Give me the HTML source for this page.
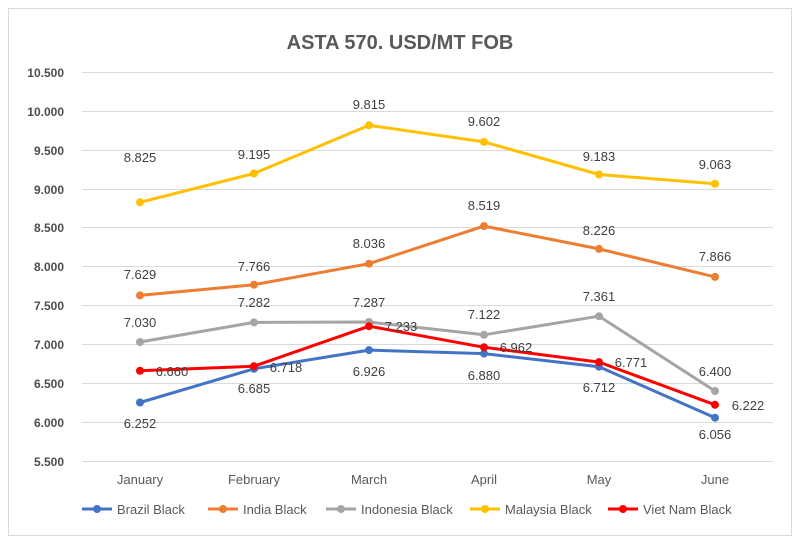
<!DOCTYPE html>
<html><head><meta charset="utf-8"><style>
body{margin:0;background:#fff;}
svg{display:block;font-family:"Liberation Sans",Arial,sans-serif;}
</style></head><body>
<svg width="800" height="544" viewBox="0 0 800 544" xmlns="http://www.w3.org/2000/svg">
<rect x="0" y="0" width="800" height="544" fill="#fff"/>
<rect x="8.5" y="8.5" width="783" height="527" fill="#fff" stroke="#d9d9d9"/>
<text x="400" y="49" text-anchor="middle" font-size="20" font-weight="bold" fill="#595959">ASTA 570. USD/MT FOB</text>
<g stroke="#d9d9d9" stroke-width="1">
<line x1="82" x2="773" y1="72.5" y2="72.5"/><line x1="82" x2="773" y1="111.5" y2="111.5"/>
<line x1="82" x2="773" y1="150.5" y2="150.5"/><line x1="82" x2="773" y1="189.5" y2="189.5"/>
<line x1="82" x2="773" y1="227.5" y2="227.5"/><line x1="82" x2="773" y1="266.5" y2="266.5"/>
<line x1="82" x2="773" y1="305.5" y2="305.5"/><line x1="82" x2="773" y1="344.5" y2="344.5"/>
<line x1="82" x2="773" y1="383.5" y2="383.5"/><line x1="82" x2="773" y1="422.5" y2="422.5"/>
<line x1="82" x2="773" y1="461.5" y2="461.5"/>
</g>
<g font-size="12" font-weight="bold" fill="#4d4d4d" text-anchor="end">
<text x="64" y="77">10.500</text><text x="64" y="116">10.000</text><text x="64" y="155">9.500</text>
<text x="64" y="194">9.000</text><text x="64" y="232">8.500</text><text x="64" y="271">8.000</text>
<text x="64" y="310">7.500</text><text x="64" y="349">7.000</text><text x="64" y="388">6.500</text>
<text x="64" y="427">6.000</text><text x="64" y="466">5.500</text>
</g>
<g font-size="13" fill="#595959" text-anchor="middle">
<text x="140" y="484">January</text><text x="254" y="484">February</text><text x="369" y="484">March</text>
<text x="484" y="484">April</text><text x="599" y="484">May</text><text x="715" y="484">June</text>
</g>
<g fill="none" stroke-width="3" stroke-linejoin="round">
<polyline stroke="#ffc000" points="140,202.3 254,173.5 369,125.3 484,141.9 599,174.5 715,183.8"/>
<polyline stroke="#ed7d31" points="140,295.4 254,284.7 369,263.7 484,226.1 599,248.9 715,276.9"/>
<polyline stroke="#a5a5a5" points="140,342 254,322.4 369,322 484,334.8 599,316.2 715,391"/>
<polyline stroke="#4472c4" points="140,402.5 254,368.8 369,350.1 484,353.6 599,366.7 715,417.7"/>
<polyline stroke="#ff0000" points="140,370.8 254,366.2 369,326.2 484,347.3 599,362.1 715,404.8"/>
</g>
<g fill="#ffc000"><circle cx="140" cy="202.3" r="4"/><circle cx="254" cy="173.5" r="4"/><circle cx="369" cy="125.3" r="4"/><circle cx="484" cy="141.9" r="4"/><circle cx="599" cy="174.5" r="4"/><circle cx="715" cy="183.8" r="4"/></g>
<g fill="#ed7d31"><circle cx="140" cy="295.4" r="4"/><circle cx="254" cy="284.7" r="4"/><circle cx="369" cy="263.7" r="4"/><circle cx="484" cy="226.1" r="4"/><circle cx="599" cy="248.9" r="4"/><circle cx="715" cy="276.9" r="4"/></g>
<g fill="#a5a5a5"><circle cx="140" cy="342" r="4"/><circle cx="254" cy="322.4" r="4"/><circle cx="369" cy="322" r="4"/><circle cx="484" cy="334.8" r="4"/><circle cx="599" cy="316.2" r="4"/><circle cx="715" cy="391" r="4"/></g>
<g fill="#4472c4"><circle cx="140" cy="402.5" r="4"/><circle cx="254" cy="368.8" r="4"/><circle cx="369" cy="350.1" r="4"/><circle cx="484" cy="353.6" r="4"/><circle cx="599" cy="366.7" r="4"/><circle cx="715" cy="417.7" r="4"/></g>
<g fill="#ff0000"><circle cx="140" cy="370.8" r="4"/><circle cx="254" cy="366.2" r="4"/><circle cx="369" cy="326.2" r="4"/><circle cx="484" cy="347.3" r="4"/><circle cx="599" cy="362.1" r="4"/><circle cx="715" cy="404.8" r="4"/></g>
<g font-size="13" fill="#404040" text-anchor="middle">
<text x="140" y="162">8.825</text><text x="254" y="159">9.195</text><text x="369" y="109">9.815</text><text x="484" y="126">9.602</text><text x="599" y="161">9.183</text><text x="715" y="169">9.063</text>
<text x="140" y="279">7.629</text><text x="254" y="271">7.766</text><text x="369" y="248">8.036</text><text x="484" y="210">8.519</text><text x="599" y="235">8.226</text><text x="715" y="261">7.866</text>
<text x="140" y="327">7.030</text><text x="254" y="307">7.282</text><text x="369" y="307">7.287</text><text x="484" y="319">7.122</text><text x="599" y="301">7.361</text><text x="715" y="376">6.400</text>
<text x="140" y="428">6.252</text><text x="254" y="393">6.685</text><text x="369" y="376">6.926</text><text x="484" y="380">6.880</text><text x="599" y="392">6.712</text><text x="715" y="439">6.056</text>
<text x="172" y="376">6.660</text><text x="286" y="372">6.718</text><text x="401" y="331">7.233</text><text x="516" y="352">6.962</text><text x="631" y="367">6.771</text><text x="748" y="410">6.222</text>
</g>
<g font-size="13" fill="#595959">
<line x1="82" x2="112" y1="509" y2="509" stroke="#4472c4" stroke-width="3"/><circle cx="97" cy="509" r="4" fill="#4472c4"/><text x="117" y="514">Brazil Black</text>
<line x1="208" x2="238" y1="509" y2="509" stroke="#ed7d31" stroke-width="3"/><circle cx="223" cy="509" r="4" fill="#ed7d31"/><text x="243" y="514">India Black</text>
<line x1="326" x2="356" y1="509" y2="509" stroke="#a5a5a5" stroke-width="3"/><circle cx="341" cy="509" r="4" fill="#a5a5a5"/><text x="361" y="514">Indonesia Black</text>
<line x1="470" x2="500" y1="509" y2="509" stroke="#ffc000" stroke-width="3"/><circle cx="485" cy="509" r="4" fill="#ffc000"/><text x="505" y="514">Malaysia Black</text>
<line x1="608" x2="638" y1="509" y2="509" stroke="#ff0000" stroke-width="3"/><circle cx="623" cy="509" r="4" fill="#ff0000"/><text x="643" y="514">Viet Nam Black</text>
</g>
</svg>
</body></html>
